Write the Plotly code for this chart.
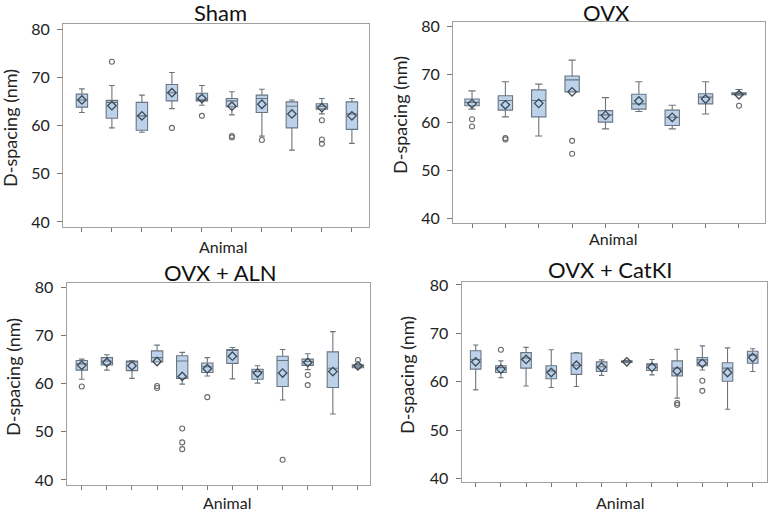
import plotly.graph_objects as go

# ---------------- data ----------------
panel_titles = ["Sham", "OVX", "OVX + ALN", "OVX + CatKI"]
x_title = "Animal"
y_title = "D-spacing (nm)"
y_ticks = [40, 50, 60, 70, 80]

sham_upper = [67.6, 68.3, 66.3, 71.0, 68.3, 67.0, 67.5, 65.3, 65.6, 65.6]
sham_q3 = [66.5, 65.2, 64.8, 68.5, 66.7, 65.6, 66.3, 64.9, 64.5, 64.9]
sham_median = [65.3, 64.8, 62.0, 66.8, 65.3, 65.1, 65.6, 64.0, 64.0, 62.4]
sham_q1 = [63.8, 61.5, 59.0, 65.1, 65.1, 63.9, 62.7, 59.5, 63.4, 59.2]
sham_lower = [62.7, 59.5, 58.6, 63.5, 64.2, 62.2, 57.8, 54.9, 62.4, 56.3]
sham_mean = [65.3, 64.1, 62.0, 66.8, 65.6, 64.0, 64.4, 62.4, 63.7, 62.0]
sham_outliers = [[], [73.2], [], [59.5], [62.0], [57.8, 57.5], [57.0], [], [61.1, 57.1, 56.2], []]

ovx_upper = [66.5, 68.4, 67.9, 72.9, 65.1, 68.4, 63.5, 68.4, 66.8]
ovx_q3 = [64.8, 65.5, 66.7, 69.6, 62.4, 65.8, 62.5, 65.9, 66.1]
ovx_median = [64.1, 64.5, 64.5, 68.8, 61.5, 63.8, 61.0, 65.2, 66.0]
ovx_q1 = [63.4, 62.5, 61.1, 66.3, 60.0, 62.7, 59.3, 63.8, 65.7]
ovx_lower = [62.7, 61.1, 57.1, 66.3, 58.6, 62.2, 58.6, 61.7, 65.6]
ovx_mean = [63.8, 63.6, 63.9, 66.3, 61.4, 64.4, 61.0, 64.8, 65.7]
ovx_outliers = [[60.6, 59.1], [56.7, 56.4], [], [56.1, 53.4], [], [], [], [], [63.4]]

aln_upper = [65.1, 66.0, 64.8, 68.0, 66.5, 65.4, 67.5, 63.7, 67.1, 66.2, 70.8, 64.1]
aln_q3 = [64.8, 65.4, 64.7, 66.8, 65.8, 64.3, 67.1, 63.0, 65.7, 65.1, 66.6, 63.9]
aln_median = [64.1, 64.7, 64.6, 65.4, 64.7, 63.5, 67.0, 62.5, 64.8, 64.6, 63.2, 63.6]
aln_q1 = [62.8, 63.9, 62.7, 64.5, 61.1, 62.3, 64.2, 60.9, 59.4, 63.8, 59.2, 63.3]
aln_lower = [60.9, 62.8, 61.1, 64.5, 59.9, 61.6, 61.0, 60.1, 56.6, 62.9, 53.7, 63.2]
aln_mean = [63.8, 64.4, 63.7, 64.6, 61.5, 63.1, 65.7, 62.2, 62.2, 64.4, 62.5, 63.7]
aln_outliers = [[59.4], [], [], [59.5, 59.1], [50.7, 47.8, 46.4], [57.2], [], [], [44.2], [61.8, 59.7], [], [64.9]]

cat_upper = [67.6, 64.3, 67.1, 66.6, 66.0, 64.5, 64.4, 64.6, 66.7, 67.4, 67.0, 66.8]
cat_q3 = [66.4, 63.3, 66.0, 63.3, 65.9, 64.1, 64.3, 63.7, 64.3, 65.0, 63.9, 66.3]
cat_median = [64.6, 62.9, 64.9, 62.2, 63.4, 63.1, 64.1, 63.6, 62.8, 64.5, 62.8, 65.5]
cat_q1 = [62.6, 61.9, 62.8, 60.6, 61.5, 62.1, 64.0, 62.3, 61.2, 63.3, 60.1, 63.8]
cat_lower = [58.3, 60.8, 59.1, 58.8, 59.0, 61.3, 63.9, 61.4, 56.6, 62.4, 54.3, 62.1]
cat_mean = [64.1, 62.6, 64.6, 61.9, 63.4, 63.0, 64.1, 63.0, 62.2, 63.8, 61.9, 65.0]
cat_outliers = [[], [66.6], [], [], [], [], [], [], [55.6, 55.2], [60.2, 58.1], [], []]

panels = [
    (sham_upper, sham_q3, sham_median, sham_q1, sham_lower, sham_mean, sham_outliers),
    (ovx_upper, ovx_q3, ovx_median, ovx_q1, ovx_lower, ovx_mean, ovx_outliers),
    (aln_upper, aln_q3, aln_median, aln_q1, aln_lower, aln_mean, aln_outliers),
    (cat_upper, cat_q3, cat_median, cat_q1, cat_lower, cat_mean, cat_outliers),
]

# ---------------- layout (pixel geometry of the 770x511 canvas) ----------------
W, H = 770, 511
frames = [(63, 24, 369, 227), (453, 21.7, 765, 223), (66.7, 283.3, 370, 485), (461.7, 281.7, 766.7, 482.3)]
x_ranges = [[0.37, 10.57], [0.43, 9.78], [0.40, 12.48], [0.444, 12.556]]
y_ranges = [[38.96, 81.04], [39.0, 80.9], [38.96, 80.83], [39.18, 80.68]]
box_widths = [0.38, 0.43, 0.45, 0.42]
title_pos = [(220, 13), (606, 13), (220, 272), (610, 269)]
xlabel_pos = [(223, 246), (613, 238), (227, 502), (620, 502)]
ylabel_pos = [(10, 128), (400, 115), (13, 377), (407, 375)]

FONT = "Lato, 'Open Sans', sans-serif"
BOX_FILL = "#bcd2ea"
BOX_LINE = "#6b7580"
FRAME = "#a0a0a0"

fig = go.Figure()
annotations = []
layout_axes = {}

for i, (upper, q3, med, q1, lower, mean, outl) in enumerate(panels):
    n = len(med)
    xs = list(range(1, n + 1))
    sfx = "" if i == 0 else str(i + 1)
    xa, ya = "x" + sfx, "y" + sfx
    fig.add_trace(go.Box(
        x=xs, q1=q1, median=med, q3=q3, lowerfence=lower, upperfence=upper,
        xaxis=xa, yaxis=ya, width=box_widths[i], whiskerwidth=0.5,
        fillcolor=BOX_FILL, line=dict(color=BOX_LINE, width=1.1),
        boxpoints=False, showlegend=False, hoverinfo="skip",
    ))
    fig.add_trace(go.Scatter(
        x=xs, y=mean, mode="markers", xaxis=xa, yaxis=ya,
        marker=dict(symbol="diamond-open", size=6.5, color="#3d4a57", line=dict(width=1.3)),
        showlegend=False, hoverinfo="skip",
    ))
    ox, oy = [], []
    for k, vals in enumerate(outl):
        for v in vals:
            ox.append(xs[k])
            oy.append(v)
    fig.add_trace(go.Scatter(
        x=ox, y=oy, mode="markers", xaxis=xa, yaxis=ya,
        marker=dict(symbol="circle-open", size=5, color="#6a6a6a", line=dict(width=1.1)),
        showlegend=False, hoverinfo="skip",
    ))

    l, t, r, b = frames[i]
    layout_axes["xaxis" + sfx] = dict(
        domain=[l / W, r / W], range=x_ranges[i], anchor=ya,
        tickmode="array", tickvals=xs, showticklabels=False,
        ticks="outside", ticklen=4, tickcolor="#777", tickwidth=1,
        showgrid=False, zeroline=False, showline=True, linecolor=FRAME, linewidth=1.2, mirror=True,
        fixedrange=True, automargin=False,
    )
    layout_axes["yaxis" + sfx] = dict(
        domain=[1 - b / H, 1 - t / H], range=y_ranges[i], anchor=xa,
        tickmode="array", tickvals=y_ticks, ticks="outside", ticklen=5, tickcolor="#777",
        tickfont=dict(family=FONT, size=16, color="#222"), ticklabelstandoff=4,
        showgrid=False, zeroline=False, showline=True, linecolor=FRAME, linewidth=1.2, mirror=True,
        fixedrange=True, automargin=False,
    )
    tx, ty = title_pos[i]
    annotations.append(dict(text=panel_titles[i], x=tx / W, y=1 - ty / H, xref="paper", yref="paper",
                            xanchor="center", yanchor="middle", showarrow=False,
                            font=dict(family=FONT, size=22, color="#111")))
    lx, ly = xlabel_pos[i]
    annotations.append(dict(text=x_title, x=lx / W, y=1 - ly / H, xref="paper", yref="paper",
                            xanchor="center", yanchor="middle", showarrow=False,
                            font=dict(family=FONT, size=16, color="#222")))
    vx, vy = ylabel_pos[i]
    annotations.append(dict(text=y_title, x=vx / W, y=1 - vy / H, xref="paper", yref="paper",
                            xanchor="center", yanchor="middle", showarrow=False, textangle=-90,
                            font=dict(family=FONT, size=18, color="#222")))

fig.update_layout(
    width=W, height=H, margin=dict(l=0, r=0, t=0, b=0, pad=0),
    paper_bgcolor="white", plot_bgcolor="white",
    annotations=annotations, showlegend=False, boxmode="overlay",
    **layout_axes,
)

fig.write_html("out.html", config={"displayModeBar": False},
               post_script="document.body.style.margin='0';document.body.style.overflow='hidden';")
